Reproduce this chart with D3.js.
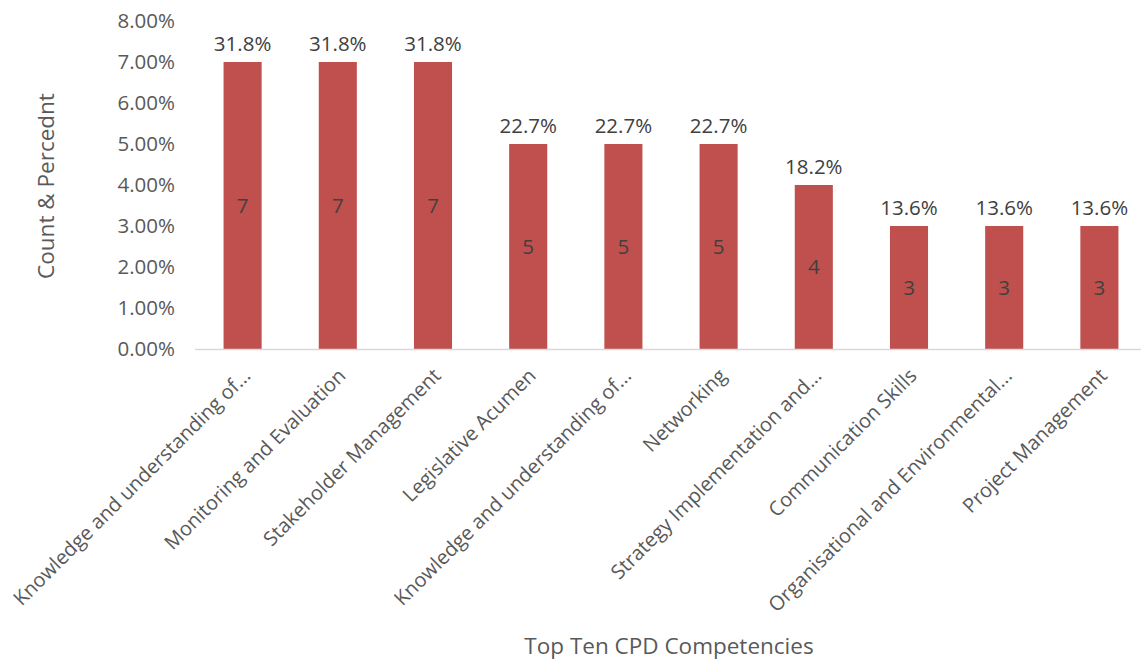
<!DOCTYPE html>
<html>
<head>
<meta charset="utf-8">
<script src="https://cdn.jsdelivr.net/npm/d3@7"></script>
<style>
  body { margin: 0; background: #fff; }
  text { font-family: "Open Sans", "Noto Sans", sans-serif; fill: #595959; }
</style>
</head>
<body>
<svg id="chart" width="1141" height="661"></svg>
<script>
const categories = [
  "Knowledge and understanding of...",
  "Monitoring and Evaluation",
  "Stakeholder Management",
  "Legislative Acumen",
  "Knowledge and understanding of...",
  "Networking",
  "Strategy Implementation and...",
  "Communication Skills",
  "Organisational and Environmental...",
  "Project Management"
];
const counts = [7, 7, 7, 5, 5, 5, 4, 3, 3, 3];
const percents = [31.8, 31.8, 31.8, 22.7, 22.7, 22.7, 18.2, 13.6, 13.6, 13.6];
const yTicks = [0, 1, 2, 3, 4, 5, 6, 7, 8];

const svg = d3.select("#chart");
const data = categories.map((c, i) => ({ key: i, name: c, count: counts[i], pct: percents[i] }));

const x = d3.scaleBand()
  .domain(data.map(d => d.key))
  .range([195, 1147])
  .paddingInner(0.6)
  .paddingOuter(0.3);

const y = d3.scaleLinear().domain([0, 8]).range([349, 21]);

// y axis tick labels (axis line hidden)
const yAxis = svg.append("g")
  .attr("transform", "translate(175,0)")
  .call(d3.axisLeft(y).tickValues(yTicks).tickSize(0).tickFormat(d => d.toFixed(2) + "%"));
yAxis.select(".domain").remove();
yAxis.selectAll("text")
  .attr("x", 0)
  .style("font-size", "20.5px")
  .style("font-family", "'Open Sans', sans-serif")
  .attr("fill", "#595959");

// bars
svg.append("g").selectAll("rect")
  .data(data)
  .join("rect")
  .attr("x", d => x(d.key))
  .attr("width", x.bandwidth())
  .attr("y", d => y(d.count))
  .attr("height", d => y(0) - y(d.count))
  .attr("fill", "#C0504D");

// baseline
svg.append("line")
  .attr("x1", 195).attr("x2", 1141)
  .attr("y1", y(0) + 0.5).attr("y2", y(0) + 0.5)
  .attr("stroke", "#d9d9d9").attr("stroke-width", 1.5);

// percentage labels above bars
svg.append("g").selectAll("text")
  .data(data)
  .join("text")
  .attr("x", d => x(d.key) + x.bandwidth() / 2)
  .attr("y", d => y(d.count) - 11)
  .attr("text-anchor", "middle")
  .style("font-size", "20.5px")
  .style("fill", "#404040")
  .text(d => d.pct.toFixed(1) + "%");

// count labels centred inside bars
svg.append("g").selectAll("text")
  .data(data)
  .join("text")
  .attr("x", d => x(d.key) + x.bandwidth() / 2)
  .attr("y", d => (y(d.count) + y(0)) / 2)
  .attr("dy", "0.36em")
  .attr("text-anchor", "middle")
  .style("font-size", "20.5px")
  .style("fill", "#404040")
  .text(d => d.count);

// category labels rotated
svg.append("g").selectAll("text")
  .data(data)
  .join("text")
  .attr("text-anchor", "end")
  .attr("transform", d => `translate(${x(d.key) + x.bandwidth() / 2 + 9},${y(0) + 28}) rotate(-45)`)
  .style("font-size", "20px")
  .text(d => d.name);

// axis titles
svg.append("text")
  .attr("transform", "translate(54,186) rotate(-90)")
  .attr("text-anchor", "middle")
  .style("font-size", "22.5px")
  .text("Count & Percednt");

svg.append("text")
  .attr("x", 669).attr("y", 654)
  .attr("text-anchor", "middle")
  .style("font-size", "22.5px")
  .text("Top Ten CPD Competencies");
</script>
</body>
</html>
